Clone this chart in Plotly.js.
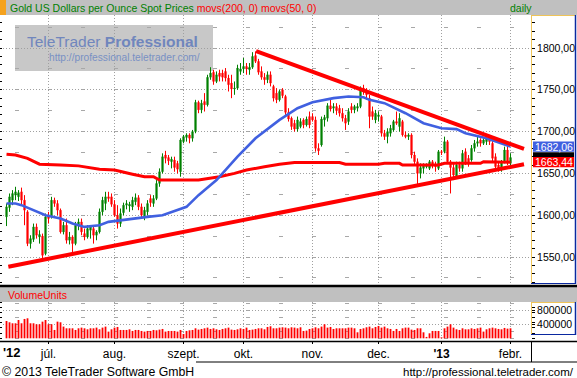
<!DOCTYPE html>
<html><head><meta charset="utf-8">
<script src="https://cdn.plot.ly/plotly-3.0.1.min.js"></script>
<style>html,body{margin:0;padding:0;background:#fff}#chart{width:577px;height:378px}</style>
</head><body><div id="chart"></div>
<script>
// Daily bars, 12 Jun 2012 .. 1 Feb 2013 (weekday index)
const openP = [1598,1609,1618,1624,1622,1628,1618,1604,1566,1571,
 1586,1574,1575,1554,1600,1598,1618,1614,1606,1580,
 1588,1570,1574,1566,1588,1592,1578,1574,1582,1584,
 1576,1580,1604,1614,1622,1622,1613,1600,1590,1603,
 1612,1611,1610,1616,1621,1610,1598,1604,1620,1614,
 1620,1638,1652,1672,1669,1664,1666,1662,1652,1688,
 1693,1696,1692,1700,1735,1726,1736,1732,1765,1771,
 1760,1770,1770,1772,1764,1758,1751,1752,1772,1775,
 1778,1774,1777,1791,1784,1772,1765,1762,1768,1754,
 1746,1738,1750,1742,1723,1716,1710,1703,1706,1714,
 1708,1718,1718,1714,1680,1684,1714,1716,1731,1728,
 1730,1728,1722,1716,1712,1730,1726,1728,1730,1752,
 1748,1740,1724,1714,1718,1718,1698,1694,1698,1702,
 1712,1706,1712,1696,1694,1696,1672,1664,1650,1656,
 1658,1656,1664,1660,1656,1676,1676,1688,1664,1657,
 1646,1660,1656,1676,1668,1666,1680,1686,1690,1686,
 1688,1692,1686,1670,1660,1656,1664,1678,1662];
const highP = [1614,1626,1630,1634,1630,1633,1624,1606,1576,1590,
 1590,1582,1578,1602,1604,1622,1621,1618,1608,1592,
 1596,1580,1576,1592,1596,1596,1584,1588,1588,1586,
 1582,1608,1622,1628,1628,1626,1618,1612,1608,1615,
 1618,1616,1622,1626,1624,1614,1610,1618,1624,1624,
 1642,1656,1674,1677,1672,1670,1670,1665,1692,1696,
 1698,1698,1702,1738,1737,1738,1746,1768,1777,1774,
 1772,1774,1774,1776,1768,1768,1760,1780,1782,1788,
 1782,1782,1795,1796,1787,1778,1770,1772,1772,1756,
 1752,1750,1752,1744,1728,1718,1714,1718,1716,1716,
 1718,1724,1722,1718,1686,1718,1720,1734,1738,1734,
 1734,1732,1728,1720,1728,1734,1732,1734,1754,1756,
 1752,1744,1730,1726,1724,1720,1702,1704,1708,1714,
 1724,1722,1714,1700,1698,1698,1676,1668,1662,1662,
 1662,1666,1666,1664,1678,1678,1694,1690,1666,1662,
 1664,1664,1678,1680,1672,1684,1690,1694,1692,1692,
 1696,1694,1690,1674,1664,1666,1682,1684,1674];
const lowP = [1587,1604,1612,1618,1617,1612,1588,1563,1560,1568,
 1572,1566,1548,1552,1590,1596,1610,1600,1578,1577,
 1566,1565,1556,1564,1582,1576,1570,1572,1572,1566,
 1570,1578,1600,1606,1616,1610,1598,1584,1586,1600,
 1607,1604,1606,1612,1606,1596,1594,1600,1610,1610,
 1618,1634,1650,1662,1660,1656,1652,1650,1646,1686,
 1688,1686,1688,1698,1722,1722,1724,1730,1762,1756,
 1758,1760,1760,1760,1748,1740,1744,1750,1768,1770,
 1768,1768,1775,1782,1768,1762,1756,1758,1754,1736,
 1734,1736,1740,1720,1712,1702,1700,1700,1704,1704,
 1706,1704,1712,1676,1672,1682,1706,1712,1724,1722,
 1720,1718,1712,1702,1708,1722,1722,1724,1728,1744,
 1738,1704,1714,1710,1712,1694,1690,1686,1694,1700,
 1708,1700,1694,1692,1690,1668,1660,1636,1644,1650,
 1656,1654,1656,1652,1654,1672,1674,1662,1626,1642,
 1644,1652,1652,1660,1658,1664,1676,1682,1682,1684,
 1684,1684,1664,1656,1652,1652,1662,1660,1658];
const closeP = [1610,1622,1626,1628,1627,1618,1606,1566,1572,1586,
 1576,1577,1552,1598,1596,1618,1614,1606,1580,1588,
 1570,1574,1566,1588,1592,1580,1574,1584,1586,1576,
 1580,1604,1618,1622,1620,1613,1600,1590,1602,1612,
 1614,1613,1618,1621,1610,1600,1606,1614,1615,1620,
 1638,1652,1670,1668,1665,1667,1657,1655,1690,1694,
 1696,1692,1700,1735,1726,1734,1732,1765,1770,1760,
 1768,1766,1765,1764,1756,1751,1752,1776,1775,1778,
 1775,1777,1790,1784,1771,1765,1762,1768,1758,1740,
 1738,1748,1743,1723,1715,1706,1703,1714,1712,1708,
 1715,1708,1714,1680,1677,1715,1717,1731,1727,1730,
 1725,1722,1716,1710,1724,1726,1730,1730,1752,1748,
 1744,1718,1718,1722,1720,1698,1694,1700,1704,1712,
 1710,1716,1696,1694,1696,1672,1664,1650,1657,1660,
 1660,1664,1660,1658,1676,1675,1688,1664,1657,1648,
 1660,1656,1674,1662,1662,1680,1686,1688,1686,1690,
 1692,1688,1668,1658,1656,1664,1678,1664,1669];
const volume = [502000,464000,435000,435000,530000,435000,561000,580000,435000,435000,
 406000,406000,483000,530000,406000,406000,242000,483000,464000,339000,
 290000,290000,290000,242000,290000,310000,290000,261000,290000,290000,
 310000,261000,310000,339000,194000,261000,310000,329000,242000,242000,
 242000,261000,213000,242000,242000,213000,194000,213000,213000,242000,
 232000,252000,271000,194000,213000,213000,213000,194000,242000,126000,
 213000,232000,242000,290000,252000,271000,290000,310000,271000,290000,
 261000,242000,271000,290000,310000,252000,242000,261000,290000,271000,
 310000,242000,252000,271000,290000,290000,261000,329000,348000,290000,
 290000,310000,319000,310000,290000,319000,310000,290000,319000,213000,
 223000,271000,290000,319000,290000,339000,406000,310000,329000,271000,
 290000,290000,290000,290000,310000,310000,290000,174000,271000,290000,
 319000,339000,290000,329000,358000,310000,339000,290000,271000,213000,
 271000,213000,290000,310000,310000,252000,242000,290000,290000,174000,
 40000,145000,213000,213000,213000,29000,290000,339000,406000,310000,
 261000,242000,290000,261000,261000,290000,271000,290000,310000,194000,
 261000,290000,310000,290000,271000,261000,300000,280000,290000];

// moving averages (bar index, value)
const ma200Idx = [0,3,7,11,18,24,31,36,42,46,49,51,64,71,76,80,86,91,96,111,113,124,126,131,132,144,146,158,159,168];
const ma200Val = [1673,1672,1668,1661,1660,1659,1655,1654,1649,1646,1646,1642,1642,1646,1650,1654,1658,1661,1663,1663,1661,1661,1662,1662,1660,1660,1662,1662,1664,1663.44];
const ma50Idx = [0,3,5,9,13,18,22,26,31,34,40,47,52,55,60,64,67,70,77,83,91,97,102,109,114,119,121,126,133,139,145,150,153,160,168];
const ma50Val = [1614,1614,1612,1606,1600,1596,1590,1586,1588,1592,1595,1598,1600,1604,1610,1624,1633,1642,1670,1692,1714,1728,1735,1740,1742,1741,1738,1734,1722,1710,1704,1703,1698,1692,1682.06];
// trend lines
const trendUpIdx = [83.2, 172.5], trendUpVal = [1796.4, 1679.2];
const trendLowIdx = [0.6, 172.5], trendLowVal = [1538.4, 1660.9];

const monthTickIdx = [14,36,59,79,102,124,145,168];
const monthTickText = ['júl.','aug.','szept.','okt.','nov.','dec.',"<b>'13</b>",'febr.'];
const priceTicks = [1550,1600,1650,1700,1750,1800];
const volTicks = [400000,800000];

const idx = closeP.map((_, i) => i);
const W = 577, H = 378;
const px = x => x / W, py = y => 1 - y / H;
const fmt = v => v.toFixed(2).replace('.', ',');
const FONT = '"Liberation Sans", Arial, sans-serif';
const GRID = '#a0a0a0';
const YEL = '#efc458', BLU = '#0a28a0';

const priceRange = [1517.7, 1839.47];
const volRange = [-78260, 1052200];
const xRange = [-1.17, 174.83];

const traces = [
  {type:'candlestick', x:idx, open:openP, high:highP, low:lowP, close:closeP, xaxis:'x', yaxis:'y',
   increasing:{line:{color:'#008000', width:1}, fillcolor:'#008000'},
   decreasing:{line:{color:'#ff0000', width:1}, fillcolor:'#ff0000'},
   whiskerwidth:0, hoverinfo:'skip', showlegend:false},
  {type:'bar', x:idx, y:volume, xaxis:'x2', yaxis:'y3', width:0.6,
   marker:{color:'#ff0000', line:{width:0}}, hoverinfo:'skip', showlegend:false},
  {type:'scatter', mode:'lines', x:ma200Idx, y:ma200Val, xaxis:'x', yaxis:'y', line:{color:'#ff0000', width:3}, hoverinfo:'skip'},
  {type:'scatter', mode:'lines', x:ma50Idx, y:ma50Val, xaxis:'x', yaxis:'y', line:{color:'#4060e0', width:2.6}, hoverinfo:'skip'},
  {type:'scatter', mode:'lines', x:trendUpIdx, y:trendUpVal, xaxis:'x', yaxis:'y', line:{color:'#ff0000', width:4}, hoverinfo:'skip'},
  {type:'scatter', mode:'lines', x:trendLowIdx, y:trendLowVal, xaxis:'x', yaxis:'y', line:{color:'#ff0000', width:4}, hoverinfo:'skip'},
  {type:'scatter', mode:'markers', x:[null], y:[null], xaxis:'x', yaxis:'y2', hoverinfo:'skip'},
  {type:'scatter', mode:'markers', x:[null], y:[null], xaxis:'x2', yaxis:'y4', hoverinfo:'skip'}
];

function rect(x0,y0,x1,y1,fill,layer){
  return {type:'rect', xref:'paper', yref:'paper', x0:px(x0), x1:px(x1), y0:py(y0), y1:py(y1),
          fillcolor:fill, line:{width:0}, layer:layer||'below'};
}
function hline(x0,x1,y,color,w){
  return {type:'line', xref:'paper', yref:'paper', x0:px(x0), x1:px(x1), y0:py(y), y1:py(y),
          line:{color:color, width:w}, layer:'above'};
}
function vline(x,y0,y1,color,w){
  return {type:'line', xref:'paper', yref:'paper', x0:px(x), x1:px(x), y0:py(y0), y1:py(y1),
          line:{color:color, width:w}, layer:'above'};
}
function tag(val, color){
  return {type:'rect', xref:'paper', yref:'y', x0:px(533), x1:px(574), y0:val-6.2, y1:val+6.2,
          fillcolor:color, line:{width:0}, layer:'above'};
}

const lastClose = closeP[closeP.length-1];
const ma50Last = ma50Val[ma50Val.length-1];
const ma200Last = ma200Val[ma200Val.length-1];

const shapes = [
  rect(0,0,577,15,'#c0c0c0'),
  rect(0,0,6,15,'#f5a21e'),
  rect(0,287,577,302,'#c0c0c0'),
  {type:'rect', xref:'x domain', yref:'y domain', x0:(15-3)/528, x1:(213-3)/528, y0:(284-71)/269, y1:(284-25)/269,
   fillcolor:'#c8c8c8', line:{width:0}, layer:'below'},
  vline(531.5,15,284,YEL,1), hline(531,576,15.5,YEL,1),
  vline(575.5,15,284,BLU,1.5), hline(531,576,283.5,BLU,1),
  hline(0,577,286,'#000',2.5),
  vline(531.5,302,335,YEL,1), hline(531,576,302.5,YEL,1),
  vline(575.5,302,335,BLU,1.5), hline(531,576,334.5,BLU,1),
  hline(0,577,341.5,'#000',1.5),
  vline(531.5,341,362,'#000',1),
  hline(196,577,362,'#000',1),
  tag(lastClose,'#000000'),
  tag(ma200Last,'#ff0000'),
  tag(ma50Last,'#4060e0')
];

const ann = (o) => Object.assign({xref:'paper', yref:'paper', showarrow:false, xanchor:'left', yanchor:'middle',
  font:{family:FONT, size:10.5, color:'#000'}}, o);

const annotations = [
  ann({x:px(8), y:py(7.5), text:'<span style="color:#008000">Gold US Dollars per Ounce Spot Prices</span> <span style="color:#ff0000">movs(200, 0) movs(50, 0)</span>'}),
  ann({x:px(508), y:py(7.5), text:'daily', font:{family:FONT, size:10.5, color:'#008000'}}),
  ann({x:px(6), y:py(294.5), text:'VolumeUnits', font:{family:FONT, size:10.5, color:'#ff0000'}}),
  ann({x:px(25), y:py(41), text:'TeleTrader <b>Professional</b>', font:{family:FONT, size:15.5, color:'#7086bd'}}),
  ann({x:px(47), y:py(57), text:'http://professional.teletrader.com/', font:{family:FONT, size:10.2, color:'#7890c4'}}),
  ann({x:px(1), y:py(352.5), text:"<b>'12</b>", font:{family:FONT, size:13, color:'#000'}}),
  ann({x:px(0), y:py(372), text:'© 2013 TeleTrader Software GmbH', font:{family:FONT, size:12.3, color:'#000'}}),
  ann({x:px(576), y:py(372), xanchor:'right', text:'http://professional.teletrader.com/', font:{family:FONT, size:11.5, color:'#000'}}),
  ann({x:px(533), y:ma200Last, yref:'y', text:fmt(ma200Last), font:{family:FONT, size:10.5, color:'#ffffff'}}),
  ann({x:px(533), y:ma50Last, yref:'y', text:fmt(ma50Last), font:{family:FONT, size:10.5, color:'#ffffff'}})
];

const layout = {
  width:W, height:H, margin:{l:0, r:0, t:0, b:0},
  paper_bgcolor:'#ffffff', plot_bgcolor:'#ffffff',
  showlegend:false, separators:',.', hovermode:false,
  font:{family:FONT, size:11, color:'#000'},
  boxgap:0.45,
  xaxis:{domain:[px(3), px(531)], range:xRange, anchor:'y', tickvals:monthTickIdx, showticklabels:false,
    ticks:'', showgrid:true, gridcolor:GRID, griddash:'1px,2px', gridwidth:1, zeroline:false,
    rangeslider:{visible:false}, fixedrange:true},
  yaxis:{domain:[py(284), py(15)], range:priceRange, anchor:'x', side:'right', tickvals:priceTicks,
    tickformat:'.2f', ticks:'outside', ticklen:3, tickcolor:'#000', ticklabelstandoff:0,
    tickfont:{family:FONT, size:10.5, color:'#000'},
    showgrid:true, gridcolor:GRID, griddash:'1px,2px', zeroline:false,
    minor:{dtick:25, tick0:1525, showgrid:true, gridcolor:'#a8a8a8', griddash:'0px,12px,4px,17px', ticks:''}},
  yaxis2:{overlaying:'y', anchor:'x', side:'right', range:priceRange, dtick:10, tick0:1520,
    ticks:'outside', ticklen:3, tickcolor:'#000', showticklabels:false, showgrid:false, zeroline:false,
    mirror:'ticks', showline:false},
  xaxis2:{domain:[px(3), px(531)], range:xRange, anchor:'y3', tickvals:monthTickIdx, ticktext:monthTickText,
    ticks:'outside', ticklen:2, tickcolor:'#000', tickfont:{family:FONT, size:12, color:'#000'},
    showgrid:true, gridcolor:GRID, griddash:'1px,2px', zeroline:false},
  yaxis3:{domain:[py(341), py(302)], range:volRange, anchor:'x2', side:'right', tickvals:volTicks,
    tickformat:'d', ticks:'outside', ticklen:3, tickcolor:'#000', ticklabelstandoff:0,
    tickfont:{family:FONT, size:10.5, color:'#000'},
    showgrid:true, gridcolor:GRID, griddash:'1px,2px', zeroline:false,
    minor:{dtick:200000, tick0:0, showgrid:true, gridcolor:'#a8a8a8', griddash:'0px,12px,4px,17px', ticks:''}},
  yaxis4:{overlaying:'y3', anchor:'x2', side:'right', range:volRange, dtick:150000, tick0:0,
    ticks:'outside', ticklen:3, tickcolor:'#000', showticklabels:false, showgrid:false, zeroline:false,
    mirror:'ticks', showline:false},
  shapes:shapes,
  annotations:annotations
};

Plotly.newPlot('chart', traces, layout, {staticPlot:true, displayModeBar:false});
</script>
</body></html>
